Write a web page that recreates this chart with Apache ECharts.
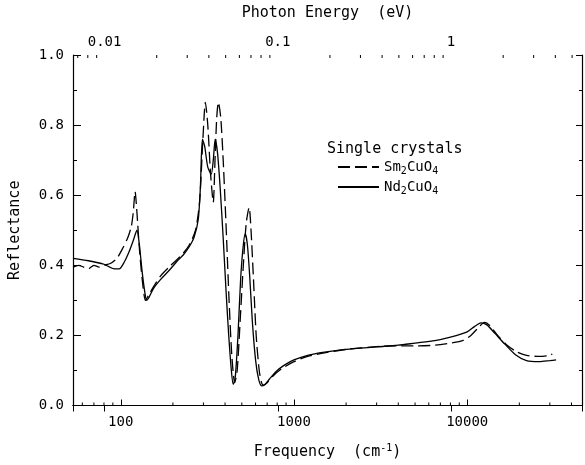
<!DOCTYPE html>
<html>
<head>
<meta charset="utf-8">
<script src="https://cdn.jsdelivr.net/npm/echarts@6/dist/echarts.min.js"></script>
<style>
html, body { margin: 0; padding: 0; background: #fff; }
#main { width: 585px; height: 465px; }
</style>
</head>
<body>
<div id="main"></div>
<script>
// 1 eV in wavenumbers
const CM_PER_EV = 8065.54;
const freqMin = 53, freqMax = 46000;

// Sm2CuO4 (dashed)
const smFreq = [53, 57, 61, 65, 70, 75, 80, 87, 95, 103, 110, 115, 118, 121, 124, 128, 133, 139, 145, 155, 170, 190, 210, 230, 250, 270, 285, 298, 308, 318, 330, 342, 350, 358, 366, 378, 392, 408, 422, 438, 455, 470, 490, 510, 530, 551, 565, 585, 605, 630, 650, 665, 700, 760, 850, 1000, 1200, 1500, 2000, 3000, 4000, 5000, 6500, 8000, 9500, 10500, 11500, 12600, 13500, 15000, 17000, 19500, 22000, 26000, 30000, 31000];
const smRefl = [0.395, 0.40, 0.395, 0.39, 0.40, 0.395, 0.40, 0.405, 0.42, 0.45, 0.48, 0.51, 0.55, 0.61, 0.55, 0.45, 0.36, 0.30, 0.315, 0.34, 0.37, 0.395, 0.415, 0.435, 0.46, 0.50, 0.58, 0.76, 0.865, 0.80, 0.66, 0.58, 0.70, 0.82, 0.865, 0.82, 0.68, 0.48, 0.30, 0.14, 0.065, 0.10, 0.25, 0.40, 0.52, 0.565, 0.50, 0.35, 0.20, 0.10, 0.065, 0.058, 0.065, 0.085, 0.105, 0.125, 0.14, 0.15, 0.16, 0.168, 0.17, 0.17, 0.172, 0.178, 0.186, 0.20, 0.22, 0.237, 0.228, 0.20, 0.172, 0.152, 0.143, 0.14, 0.143, 0.147];

// Nd2CuO4 (solid)
const ndFreq = [53, 65, 80, 92, 98, 105, 112, 118, 124, 128, 133, 138, 141, 146, 155, 170, 190, 210, 230, 250, 265, 280, 288, 296, 305, 318, 333, 342, 351, 362, 375, 390, 405, 420, 435, 446, 458, 475, 492, 508, 523, 538, 555, 575, 600, 625, 650, 680, 720, 800, 900, 1000, 1200, 1500, 2000, 3000, 4000, 5000, 6500, 8000, 10000, 11000, 12000, 13000, 14500, 16500, 19000, 22000, 26000, 30000, 32600];
const ndRefl = [0.42, 0.413, 0.403, 0.39, 0.39, 0.41, 0.44, 0.47, 0.50, 0.46, 0.38, 0.32, 0.30, 0.31, 0.335, 0.36, 0.385, 0.41, 0.43, 0.455, 0.48, 0.53, 0.62, 0.76, 0.74, 0.68, 0.66, 0.70, 0.76, 0.72, 0.62, 0.48, 0.33, 0.20, 0.10, 0.06, 0.08, 0.20, 0.36, 0.45, 0.49, 0.46, 0.37, 0.24, 0.13, 0.075, 0.056, 0.06, 0.075, 0.10, 0.118, 0.13, 0.143, 0.152, 0.16, 0.167, 0.172, 0.178, 0.185, 0.195, 0.21, 0.225, 0.236, 0.23, 0.205, 0.175, 0.145, 0.128, 0.125, 0.128, 0.13];

// minor ticks: bottom in cm^-1, top in eV
const freqMinorTicks = [60, 70, 80, 90, 200, 300, 400, 500, 600, 700, 800, 900, 2000, 3000, 4000, 5000, 6000, 7000, 8000, 9000, 20000, 30000, 40000];
const evMinorTicks = [0.007, 0.008, 0.009, 0.02, 0.03, 0.04, 0.05, 0.06, 0.07, 0.08, 0.09, 0.2, 0.3, 0.4, 0.5, 0.6, 0.7, 0.8, 0.9, 2, 3, 4, 5];

const FONT = 'DejaVu Sans Mono';

function isPow10(v) {
	const l = Math.log10(v);
	return Math.abs(l - Math.round(l)) < 1e-6;
}

function minorTicks(values, xIdx, top) {
	return {
		type: 'custom',
		xAxisIndex: xIdx,
		yAxisIndex: 0,
		silent: true,
		clip: false,
		z: 5,
		data: values.map(v => [v, top ? 1 : 0]),
		renderItem: function (params, api) {
			const p = api.coord([api.value(0), api.value(1)]);
			return {
				type: 'line',
				shape: {x1: p[0], y1: p[1], x2: p[0], y2: top ? p[1] + 3 : p[1] - 3},
				style: {stroke: '#000', lineWidth: 1}
			};
		}
	};
}

const axisLineStyle = {show: true, lineStyle: {color: '#000', width: 1.2}};
const labelStyle = {color: '#000', fontFamily: FONT, fontSize: 14};

let myChart = echarts.init(document.getElementById('main'));
let option = {
	animation: false,
	backgroundColor: '#fff',
	grid: {left: 72, right: 2, top: 55, bottom: 54, containLabel: false},
	title: {
		text: 'Single crystals',
		left: 322, top: 137,
		textStyle: {color: '#000', fontFamily: FONT, fontSize: 15, fontWeight: 'normal'}
	},
	legend: {
		data: ['Sm2CuO4', 'Nd2CuO4'],
		orient: 'vertical',
		left: 332, top: 155,
		itemWidth: 41, itemHeight: 10, itemGap: 4,
		itemStyle: {opacity: 0},
		formatter: function (name) {
			return name == 'Sm2CuO4' ? '{n|Sm}{s|2}{n|CuO}{s|4}' : '{n|Nd}{s|2}{n|CuO}{s|4}';
		},
		textStyle: {
			color: '#000',
			rich: {
				n: {fontFamily: FONT, fontSize: 14, color: '#000'},
				s: {fontFamily: FONT, fontSize: 10, color: '#000', padding: [8, 0, 0, 0]}
			}
		}
	},
	xAxis: [
		{
			type: 'log', logBase: 10, min: freqMin, max: freqMax, position: 'bottom',
			axisLine: axisLineStyle,
			axisTick: {show: true, inside: true, length: 6, lineStyle: {color: '#000'}},
			axisLabel: Object.assign({margin: 10, formatter: v => isPow10(v) ? String(Math.round(v)) : ''}, labelStyle),
			splitLine: {show: false},
			name: '{a|Frequency  (cm}{b|-1}{a|)}',
			nameLocation: 'middle', nameGap: 38,
			nameTextStyle: {
				rich: {
					a: {fontFamily: FONT, fontSize: 15, color: '#000'},
					b: {fontFamily: FONT, fontSize: 10, color: '#000', padding: [0, 0, 8, 0]}
				}
			}
		},
		{
			type: 'log', logBase: 10, min: freqMin / CM_PER_EV, max: freqMax / CM_PER_EV, position: 'top',
			axisLine: axisLineStyle,
			axisTick: {show: true, inside: true, length: 6, lineStyle: {color: '#000'}},
			axisLabel: Object.assign({margin: 6, formatter: function (v) {
				if (!isPow10(v)) return '';
				const e = Math.round(Math.log10(v));
				return e < 0 ? Math.pow(10, e).toFixed(-e) : String(Math.pow(10, e));
			}}, labelStyle),
			splitLine: {show: false},
			name: 'Photon Energy  (eV)',
			nameLocation: 'middle', nameGap: 34,
			nameTextStyle: {color: '#000', fontFamily: FONT, fontSize: 15}
		}
	],
	yAxis: [
		{
			type: 'value', min: 0, max: 1, interval: 0.2, position: 'left',
			axisLine: axisLineStyle,
			axisTick: {show: true, inside: true, length: 8, lineStyle: {color: '#000'}},
			minorTick: {show: true, splitNumber: 2, length: 4, lineStyle: {color: '#000'}},
			axisLabel: Object.assign({margin: 9, formatter: v => v.toFixed(1)}, labelStyle),
			splitLine: {show: false},
			name: 'Reflectance',
			nameLocation: 'middle', nameGap: 50,
			nameTextStyle: {color: '#000', fontFamily: FONT, fontSize: 15}
		},
		{
			type: 'value', min: 0, max: 1, interval: 0.2, position: 'right',
			axisLine: axisLineStyle,
			axisTick: {show: true, inside: true, length: 6, lineStyle: {color: '#000'}},
			minorTick: {show: true, splitNumber: 2, length: 3, lineStyle: {color: '#000'}},
			axisLabel: {show: false},
			splitLine: {show: false}
		}
	],
	series: [
		{
			name: 'Sm2CuO4', type: 'line', xAxisIndex: 0, yAxisIndex: 0,
			showSymbol: false, symbol: 'none', smooth: 0.25,
			lineStyle: {color: '#000', width: 1.3, type: [12, 5]},
			itemStyle: {color: '#000'},
			data: smFreq.map((f, i) => [f, smRefl[i]])
		},
		{
			name: 'Nd2CuO4', type: 'line', xAxisIndex: 0, yAxisIndex: 0,
			showSymbol: false, symbol: 'none', smooth: 0.25,
			lineStyle: {color: '#000', width: 1.3, type: 'solid'},
			itemStyle: {color: '#000'},
			data: ndFreq.map((f, i) => [f, ndRefl[i]])
		},
		minorTicks(freqMinorTicks, 0, false),
		minorTicks(evMinorTicks, 1, true)
	]
};
myChart.setOption(option);
</script>
</body>
</html>
